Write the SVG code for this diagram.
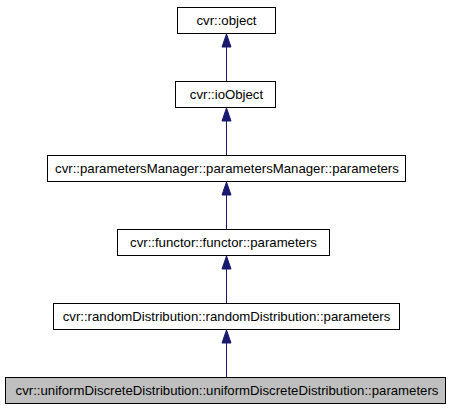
<svg xmlns="http://www.w3.org/2000/svg" width="451" height="411" viewBox="0 0 451 411">
<style>
.box{fill:#ffffff;stroke:#000000;stroke-width:1}
.cur{fill:#bfbfbf;stroke:#000000;stroke-width:1}
.lbl{font-family:"Liberation Sans",Arial,sans-serif;font-size:13.2px;fill:#000000;text-anchor:middle}
.edge{stroke:#191970;stroke-width:1;fill:none}
.head{fill:#191970;stroke:#191970}
</style>
<rect width="451" height="411" fill="#ffffff"/>
<g id="connectors">
<line class="edge" x1="226.5" y1="81" x2="226.5" y2="47"/>
<polygon class="head" points="226.5,34 222,47 231,47"/>
<line class="edge" x1="226.5" y1="155" x2="226.5" y2="121"/>
<polygon class="head" points="226.5,108 222,121 231,121"/>
<line class="edge" x1="226.5" y1="229" x2="226.5" y2="195"/>
<polygon class="head" points="226.5,182 222,195 231,195"/>
<line class="edge" x1="226.5" y1="303" x2="226.5" y2="269"/>
<polygon class="head" points="226.5,256 222,269 231,269"/>
<line class="edge" x1="226.5" y1="377" x2="226.5" y2="343"/>
<polygon class="head" points="226.5,330 222,343 231,343"/>
</g>
<g id="node1">
<rect class="box" x="177.5" y="7.5" width="98" height="26"/>
<text class="lbl" x="226.5" y="25">cvr::object</text>
</g>
<g id="node2">
<rect class="box" x="175.5" y="81.5" width="100" height="26"/>
<text class="lbl" x="226.5" y="99">cvr::ioObject</text>
</g>
<g id="node3">
<rect class="box" x="47.5" y="155.5" width="358" height="26"/>
<text class="lbl" x="227" y="173">cvr::parametersManager::parametersManager::parameters</text>
</g>
<g id="node4">
<rect class="box" x="117.5" y="229.5" width="212" height="26"/>
<text class="lbl" x="223.5" y="247">cvr::functor::functor::parameters</text>
</g>
<g id="node5">
<rect class="box" x="53.5" y="303.5" width="346" height="26"/>
<text class="lbl" x="226.5" y="321">cvr::randomDistribution::randomDistribution::parameters</text>
</g>
<g id="node6">
<rect class="cur" x="5.5" y="377.5" width="440" height="26"/>
<text class="lbl" x="227" y="395">cvr::uniformDiscreteDistribution::uniformDiscreteDistribution::parameters</text>
</g>
</svg>
